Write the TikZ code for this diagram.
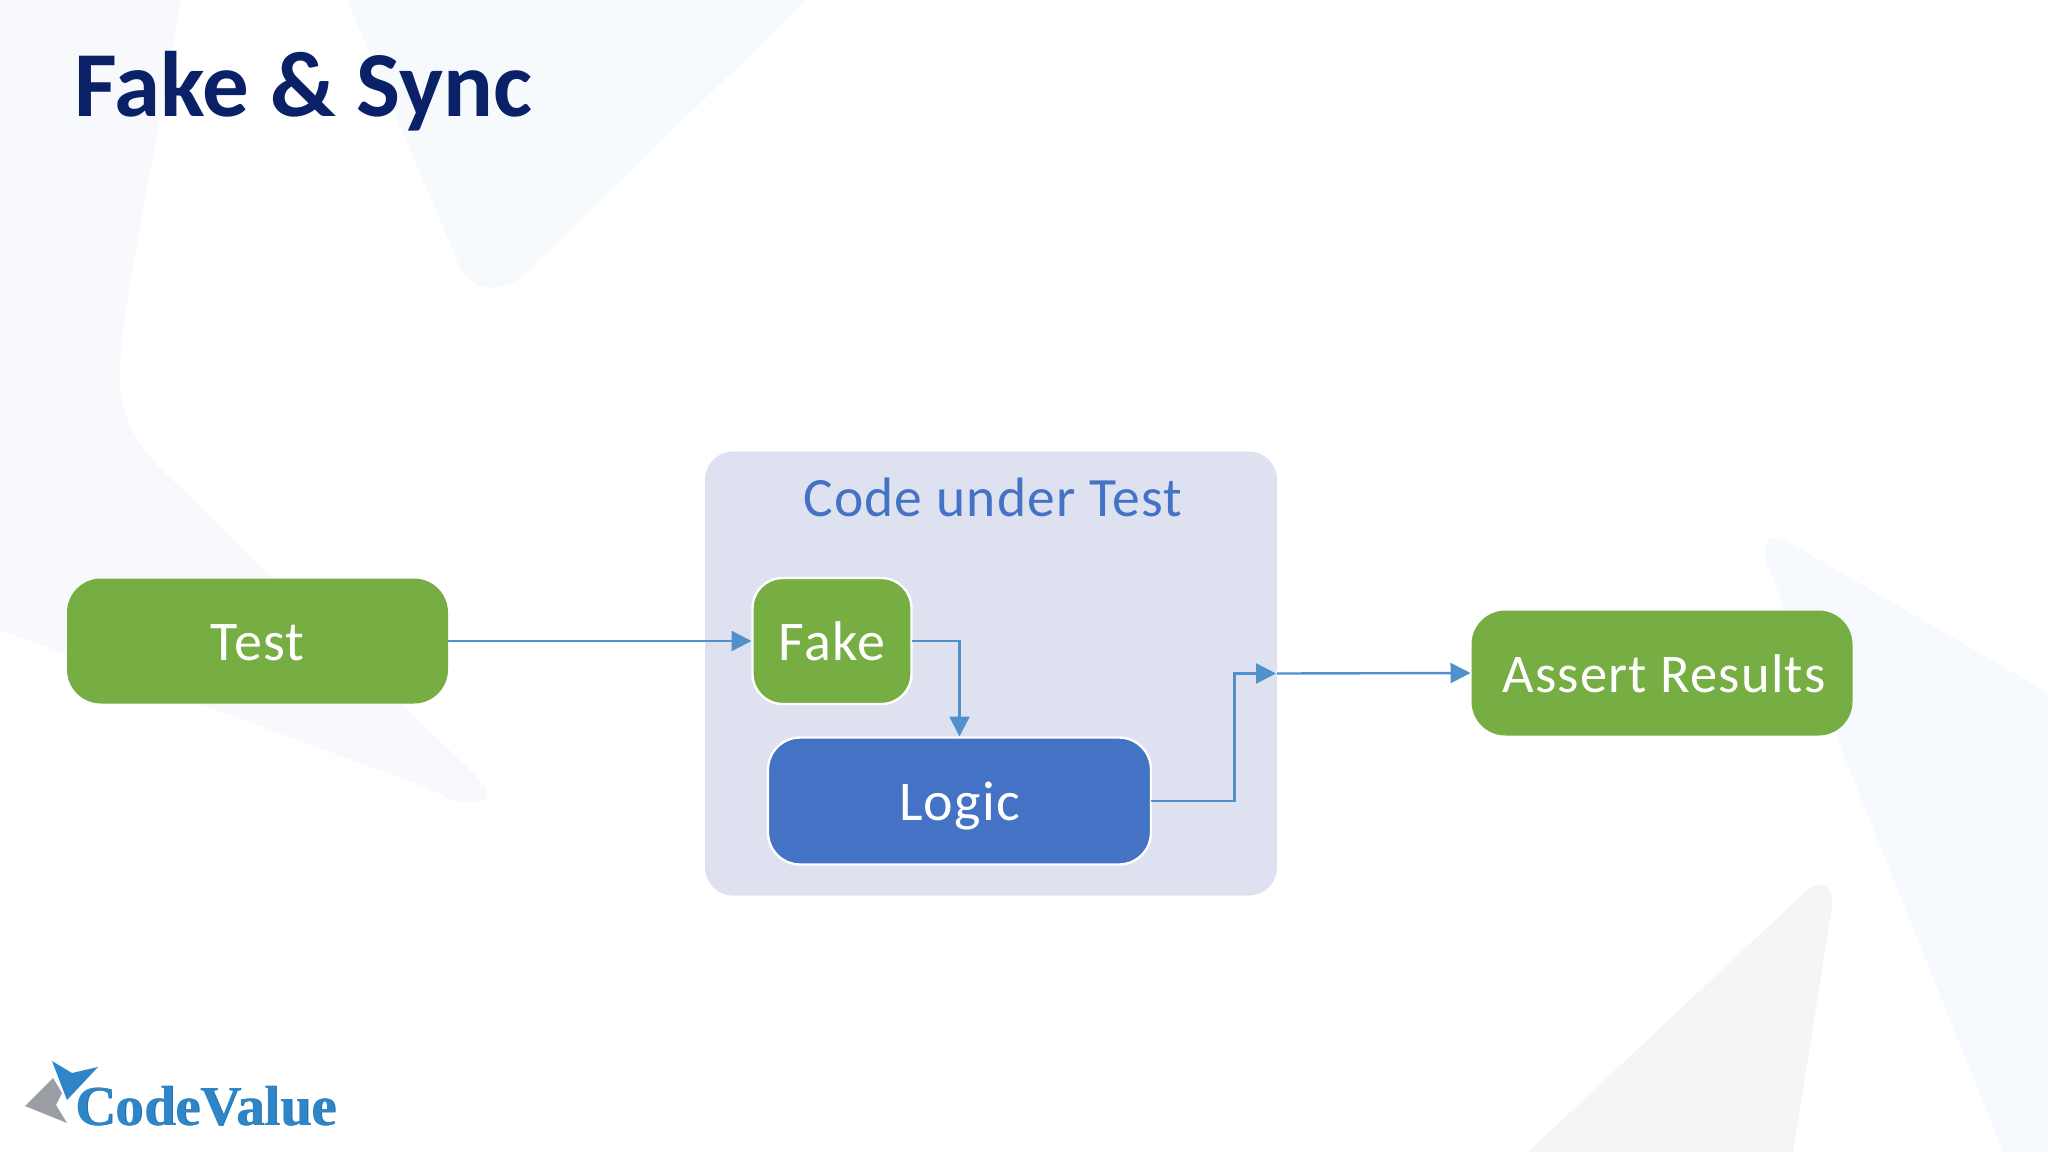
\documentclass[tikz,border=0pt]{standalone}
\usepackage{fontspec}
\setmainfont{Carlito}
\newfontfamily\boxfont[LetterSpace=2.2]{Carlito}
\newfontfamily\logofont{Liberation Serif}
\definecolor{bgA}{HTML}{F7F9FD}
\definecolor{bgB}{HTML}{F6FAFC}
\definecolor{bgC}{HTML}{F6FAFE}
\definecolor{bgD}{HTML}{F3F5F7}
\definecolor{greenbox}{HTML}{76AE43}
\definecolor{bluebox}{HTML}{4472C4}
\definecolor{panel}{HTML}{DEE1F0}
\definecolor{link}{HTML}{5090CC}
\definecolor{titlecol}{HTML}{0A2168}
\definecolor{logoblue}{HTML}{2E86C8}
\definecolor{logodark}{HTML}{1B6FA8}
\definecolor{logogray}{HTML}{9A9DA3}
\tikzset{
  x=1pt,y=-1pt,
  stepbox/.style={rounded corners=34pt,inner sep=0pt,outer sep=0pt,text=white,align=center,
    text height=38pt,text depth=0pt,font=\boxfont\fontsize{56}{60}\selectfont},
  greenshape/.style={stepbox,fill=greenbox},
  outlined/.style={draw=white,line width=2.4pt},
  flow/.style={draw=link,line width=2.4pt,-{Triangle[length=20pt,width=20pt]},shorten >=1pt},
}
\usetikzlibrary{arrows.meta}
\begin{document}
\begin{tikzpicture}
\useasboundingbox (0,0) rectangle (2048,1152);
\fill[white] (0,0) rectangle (2048,1152);
% background shapes
\fill[bgA] (0,0) -- (181,0) .. controls (160,130) and (122,300) .. (120,368)
  .. controls (118,420) and (140,450) .. (172,480) -- (475,775)
  .. controls (495,795) and (490,805) .. (465,802) .. controls (445,800) and (440,792) .. (420,785)
  -- (0,630) -- cycle;
\fill[bgB] (347,0) -- (459,265) .. controls (472,295) and (510,295) .. (534,265) -- (806,0) -- cycle;
\fill[bgC] (1768,566) .. controls (1760,545) and (1765,530) .. (1790,543) -- (2048,693)
  -- (2048,1152) -- (2003,1152) -- cycle;
\fill[bgD] (1528,1152) -- (1805,892) .. controls (1822,878) and (1834,885) .. (1832,907)
  -- (1793,1152) -- cycle;
% title
\node[anchor=base west,inner sep=0pt,text=titlecol,font=\bfseries\fontsize{93}{96}\selectfont] (title) at (74,116) {Fake \& Sync};
% panel
\node[rounded corners=28pt,fill=panel,minimum width=572pt,minimum height=444pt,inner sep=0pt,outer sep=0pt] (panelbox) at (991,673.5) {};
\node[anchor=base,inner sep=0pt,text=bluebox,font=\boxfont\fontsize{55.5}{60}\selectfont] (paneltitle) at (993,516) {Code under Test};
% boxes
\node[greenshape,minimum width=381pt,minimum height=125pt] (test) at (257.5,641) {Test};
\node[greenshape,outlined,rounded corners=30pt,minimum width=159pt,minimum height=126pt] (fake) at (832,641) {Fake};
\node[stepbox,fill=bluebox,outlined,rounded corners=32pt,minimum width=383pt,minimum height=127pt] (logic) at (959.5,801) {Logic};
\node[greenshape,minimum width=381pt,minimum height=125pt,font=\boxfont\fontsize{54.5}{60}\selectfont] (assert) at (1662,673) {\hspace*{4pt}Assert Results};
% connectors
\coordinate (bend) at (1234.5,673.5);
\draw[flow] (test.east) -- (fake.west);
\draw[flow] (fake.east) -| (logic.north);
\draw[flow] (logic.east) -| (bend) -- (panelbox.east);
\draw[flow] (panelbox.east) -- (assert.west);
% logo
\fill[logogray] (53,1078) -- (25,1106) -- (67,1123) -- (56,1105) -- (62,1093) -- cycle;
\fill[logoblue] (52,1061) -- (72,1073) -- (98,1067) -- (67,1100) -- cycle;
\node[anchor=base west,inner sep=0pt,text=logodark,font=\logofont\bfseries\fontsize{56.5}{60}\selectfont] (logoshadow) at (75.8,1125.8) {CodeValue};
\node[anchor=base west,inner sep=0pt,text=logoblue,font=\logofont\bfseries\fontsize{56.5}{60}\selectfont] (logotext) at (75,1125) {CodeValue};
\end{tikzpicture}
\end{document}
